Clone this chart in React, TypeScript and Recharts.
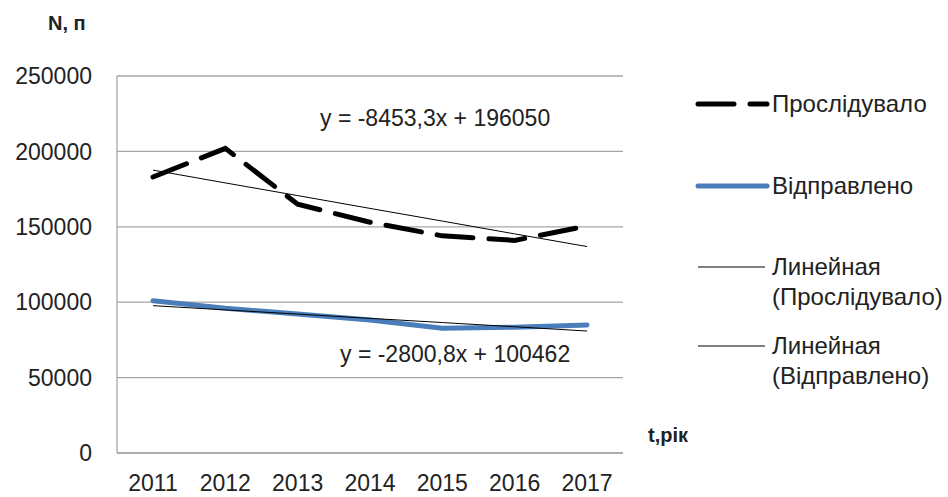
// Line chart: passengers sent / transited by year, with linear trend lines (recharts).

import { CartesianGrid, Line, LineChart, XAxis, YAxis } from "recharts";

const years = ["2011", "2012", "2013", "2014", "2015", "2016", "2017"];
const proslidualo = [183000, 202000, 165000, 153000, 144000, 141000, 150500];
const vidpravleno = [101000, 96000, 92200, 88200, 82700, 83400, 84900];
// trend values as they sit on the picture
const trendProsl = [187600, 179100, 170700, 162200, 153800, 145300, 136900];
const trendVidpr = [97700, 94900, 92100, 89300, 86500, 83700, 80900];
const yTicks = [0, 50000, 100000, 150000, 200000, 250000];

const data = years.map((y, i) => ({
  year: y,
  prosl: proslidualo[i],
  vidpr: vidpravleno[i],
  tProsl: trendProsl[i],
  tVidpr: trendVidpr[i],
}));

const FONT = "'Liberation Sans', Arial, sans-serif";
const GRID = "#a6a6a6";
const FS = 23;

function LegendBox() {
  const row = (top: number, swatch: React.ReactNode, lines: string[]) => (
    <div style={{ position: "absolute", left: 0, top, display: "flex", alignItems: "flex-start" }}>
      <svg width={78} height={30} style={{ flex: "none" }}>{swatch}</svg>
      <div style={{ lineHeight: "30px" }}>
        {lines.map((l) => <div key={l}>{l}</div>)}
      </div>
    </div>
  );
  return (
    <div style={{ position: "absolute", left: 694, top: 89, width: 260, height: 320, fontFamily: FONT, fontSize: 24, color: "#222" }}>
      {row(0, <line x1={4} y1={15} x2={73} y2={15} stroke="#000" strokeWidth={5} strokeDasharray="36 16" strokeLinecap="round" />, ["Прослідувало"])}
      {row(82, <line x1={4} y1={15} x2={73} y2={15} stroke="#4a7ebb" strokeWidth={5} strokeLinecap="round" />, ["Відправлено"])}
      {row(163, <line x1={4} y1={15} x2={71} y2={15} stroke="#000" strokeWidth={1} />, ["Линейная", "(Прослідувало)"])}
      {row(242, <line x1={4} y1={15} x2={71} y2={15} stroke="#000" strokeWidth={1} />, ["Линейная", "(Відправлено)"])}
    </div>
  );
}

const txt = (left: number, top: number, s: string, bold = false) => (
  <div style={{ position: "absolute", left, top, fontFamily: FONT, fontSize: bold ? 20 : FS, fontWeight: bold ? 700 : 400, color: "#222", whiteSpace: "nowrap" }}>
    {s}
  </div>
);

export default function App() {
  return (
    <div style={{ position: "absolute", left: 0, top: 0, width: 948, height: 497, background: "#fff", overflow: "hidden" }}>
      <LineChart width={948} height={497} data={data} margin={{ top: 76, right: 325, bottom: 0, left: 12 }}>
        <CartesianGrid vertical={false} stroke={GRID} strokeWidth={1.3} />
        <XAxis dataKey="year" height={44} padding={{ left: 36, right: 36 }} axisLine={{ stroke: GRID, strokeWidth: 1.3 }}
               tickLine={false} tickSize={0} tickMargin={22} tick={{ fill: "#222", fontSize: FS, fontFamily: FONT }} interval={0} />
        <YAxis width={105} domain={[0, 250000]} ticks={yTicks} axisLine={{ stroke: GRID, strokeWidth: 1.3 }}
               tickLine={false} tickSize={0} tickMargin={25} tick={{ fill: "#222", fontSize: FS, fontFamily: FONT }} />
        <Line dataKey="prosl" stroke="#000" strokeWidth={5} strokeDasharray="36 16" strokeLinecap="round"
              dot={false} isAnimationActive={false} type="linear" />
        <Line dataKey="vidpr" stroke="#4a7ebb" strokeWidth={5} strokeLinecap="round"
              dot={false} isAnimationActive={false} type="linear" />
        <Line dataKey="tProsl" stroke="#000" strokeWidth={1} dot={false} isAnimationActive={false} type="linear" />
        <Line dataKey="tVidpr" stroke="#000" strokeWidth={1} dot={false} isAnimationActive={false} type="linear" />
      </LineChart>
      <LegendBox />
      {txt(48, 12, "N, п", true)}
      {txt(648, 424, "t,рік", true)}
      {txt(320, 105, "y = -8453,3x + 196050")}
      {txt(340, 341, "y = -2800,8x + 100462")}
    </div>
  );
}
